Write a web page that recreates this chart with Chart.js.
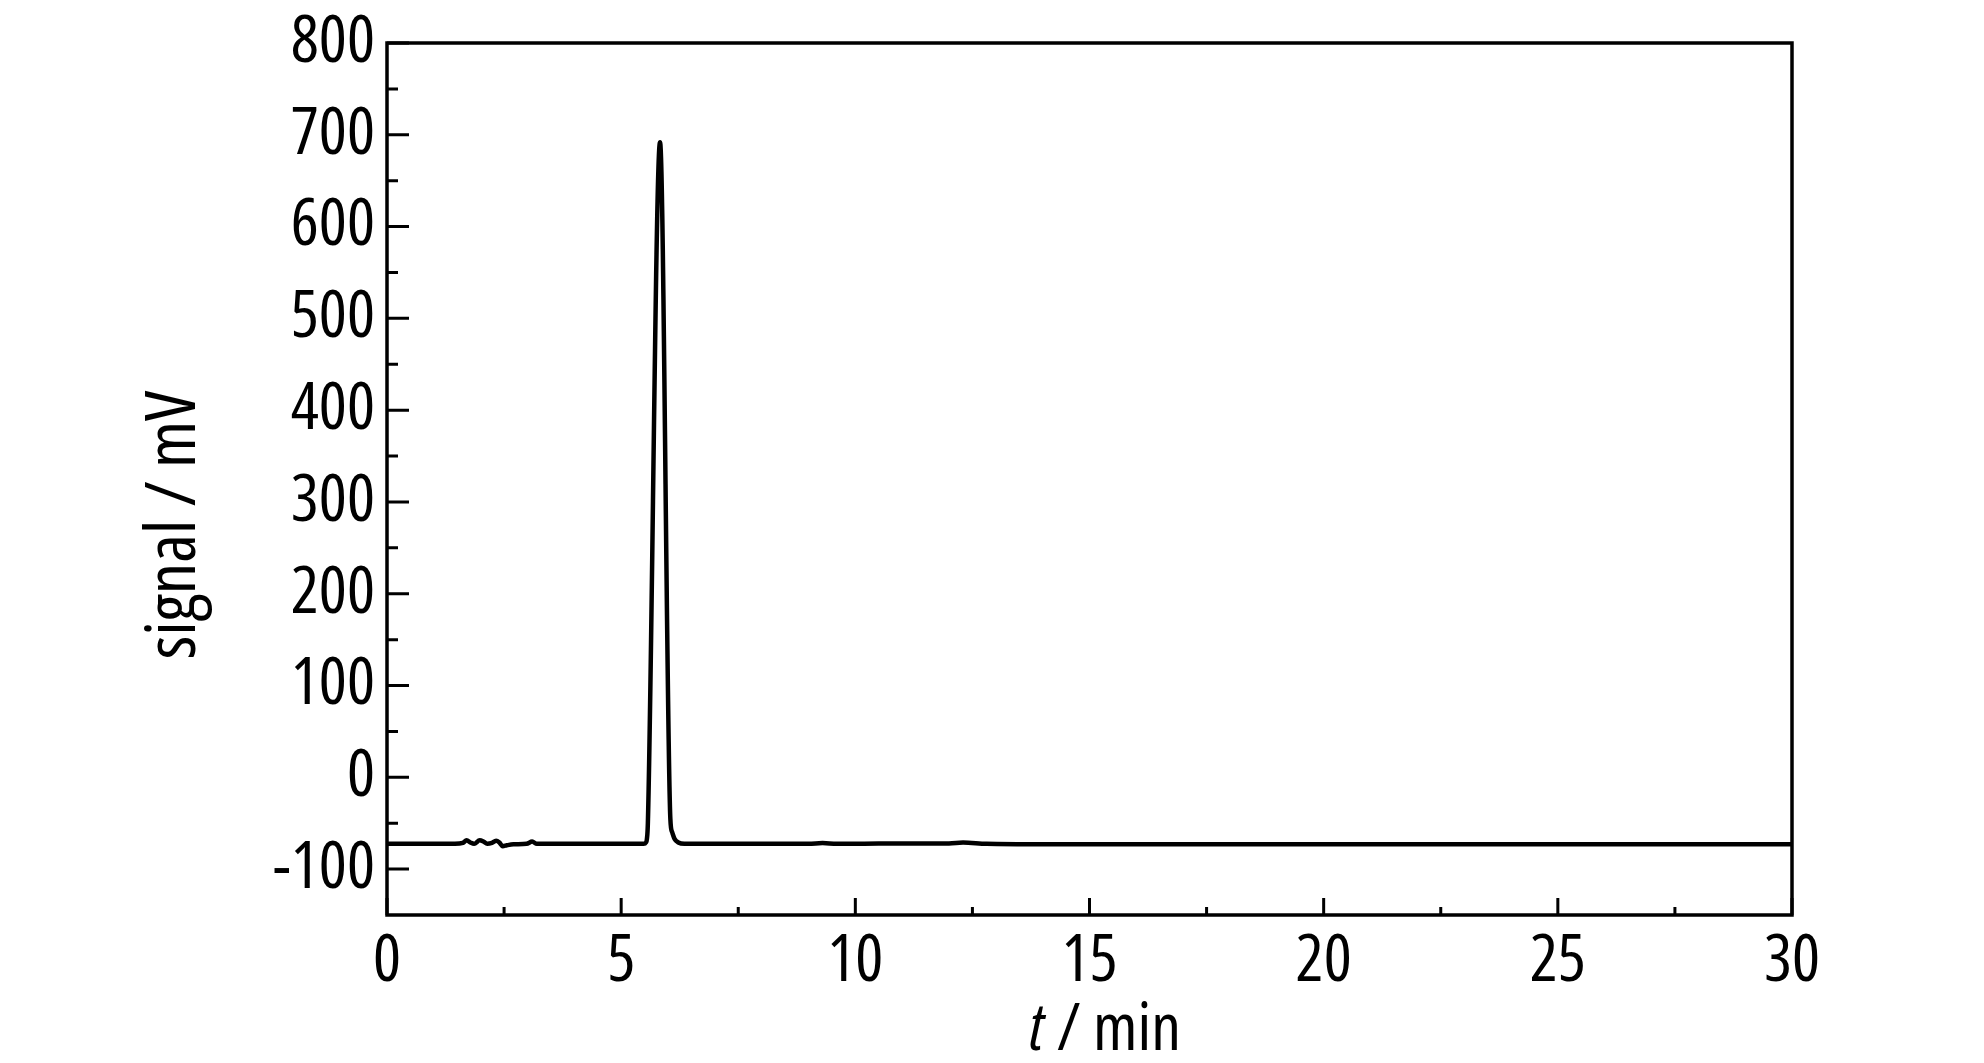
<!DOCTYPE html>
<html lang="en">
<head>
    <meta charset="UTF-8">
    <title>Chromatogram</title>
    <script src="https://cdn.jsdelivr.net/npm/chart.js"></script>
    <style>
        body {
            margin: 0;
            background-color: white;
        }
        .chart-container {
            width: 1984px;
            height: 1063px;
        }
    </style>
</head>
<body>
    <div class="chart-container">
        <canvas id="chromChart"></canvas>
    </div>

    <script>
        // Values: time (min) and signal (mV)
        const times = [0, 1.45, 1.62, 1.70, 1.78, 1.86, 1.98, 2.06, 2.14, 2.24,
                       2.33, 2.40, 2.47, 2.56, 2.70, 2.98, 3.10, 3.20, 3.40, 5.00,
                       5.48, 5.53, 5.55, 5.57, 5.83, 6.05, 6.09, 6.14, 6.22, 6.35,
                       7.00, 9.00, 9.30, 9.60, 10.50, 12.00, 12.30, 12.80, 14.00, 30];
        const signals = [-72.5, -72.5, -71.5, -68.5, -71, -72.5, -68.5, -70, -72.5, -71.5,
                         -69, -71, -75, -74, -73, -72.5, -70, -72.5, -72.5, -72.5,
                         -72.5, -71, -67, -50, 692, -45, -60, -67, -71, -72.5,
                         -72.5, -72.5, -71.5, -72.5, -72, -72, -71, -72.5, -73, -73];

        const xMajorTicks = [0, 5, 10, 15, 20, 25, 30];
        const xMinorTicks = [2.5, 7.5, 12.5, 17.5, 22.5, 27.5];
        const yMajorTicks = [-100, 0, 100, 200, 300, 400, 500, 600, 700, 800];
        const yMinorTicks = [-50, 50, 150, 250, 350, 450, 550, 650, 750];

        // The reference uses a narrow sans; take the narrowest one this machine has
        function pickFont() {
            const c = document.createElement('canvas').getContext('2d');
            const probe = '0123456789';
            const w = f => { c.font = f; return c.measureText(probe).width; };
            const mono = w('66px monospace');
            const candidates = [
                { stretch: '', family: "'Liberation Sans Narrow'" },
                { stretch: '', family: "'Arial Narrow'" },
                { stretch: 'condensed', family: "'Liberation Sans'" },
                { stretch: 'condensed', family: "'Noto Sans'" },
                { stretch: 'condensed', family: 'Roboto' },
                { stretch: 'condensed', family: "'Open Sans'" },
                { stretch: '', family: "'DejaVu Sans Condensed'" },
                { stretch: 'condensed', family: "'DejaVu Sans'" }
            ];
            let best = null;
            candidates.forEach(cd => {
                const base = w('66px ' + cd.family + ', monospace');
                if (Math.abs(base - mono) < 0.5) return;
                const ww = cd.stretch ? w(cd.stretch + ' 66px ' + cd.family + ', monospace') : base;
                if (cd.stretch && ww > base * 0.97) return;
                if (!best || ww < best.width) best = { stretch: cd.stretch, family: cd.family, width: ww };
            });
            // Arial Narrow digits: about 301px for the probe at 66px
            if (!best || best.width > 340) {
                return { stretch: '', family: "'Liberation Sans'", size: 62 };
            }
            return { stretch: best.stretch, family: best.family, size: 66 };
        }

        const picked = pickFont();
        const fontFamily = picked.family + ', sans-serif';
        const fontSize = picked.size;
        const fontPrefix = picked.stretch ? picked.stretch + ' ' : '';
        const tickFont = { family: fontFamily, size: fontSize, weight: picked.stretch || undefined };

        // Frame, inward ticks and axis titles
        const framePlugin = {
            id: 'frame',
            afterDraw(chart) {
                const c = chart.ctx;
                const a = chart.chartArea;
                const xs = chart.scales.x;
                const ys = chart.scales.y;
                c.save();
                c.strokeStyle = '#000';
                c.lineWidth = 3.5;
                c.strokeRect(a.left, a.top, a.right - a.left, a.bottom - a.top);
                c.lineWidth = 3;
                c.beginPath();
                xMajorTicks.forEach(v => { const p = xs.getPixelForValue(v); c.moveTo(p, a.bottom); c.lineTo(p, a.bottom - 17); });
                xMinorTicks.forEach(v => { const p = xs.getPixelForValue(v); c.moveTo(p, a.bottom); c.lineTo(p, a.bottom - 8); });
                yMajorTicks.forEach(v => { const p = ys.getPixelForValue(v); c.moveTo(a.left, p); c.lineTo(a.left + 22, p); });
                yMinorTicks.forEach(v => { const p = ys.getPixelForValue(v); c.moveTo(a.left, p); c.lineTo(a.left + 11, p); });
                c.stroke();

                // x title with italic t
                c.fillStyle = '#000';
                c.textBaseline = 'alphabetic';
                const italic = 'italic ' + fontPrefix + fontSize + 'px ' + fontFamily;
                const upright = fontPrefix + fontSize + 'px ' + fontFamily;
                c.font = italic;
                const tW = c.measureText('t').width;
                c.font = upright;
                const restW = c.measureText(' / min').width;
                const x0 = 1105 - (tW + restW) / 2;
                c.textAlign = 'left';
                c.font = italic;
                c.fillText('t', x0, 1050);
                c.font = upright;
                c.fillText(' / min', x0 + tW, 1050);

                // y title
                c.translate(195, 525);
                c.rotate(-Math.PI / 2);
                c.textAlign = 'center';
                c.font = fontPrefix + (fontSize + 4) + 'px ' + fontFamily;
                c.fillText('signal / mV', 0, 0);
                c.restore();
            }
        };

        const ctx = document.getElementById('chromChart').getContext('2d');
        const chromChart = new Chart(ctx, {
            type: 'line',
            data: {
                datasets: [{
                    data: times.map((t, i) => ({ x: t, y: signals[i] })),
                    borderColor: '#000',
                    borderWidth: 4.5,
                    pointRadius: 0,
                    cubicInterpolationMode: 'monotone',
                    fill: false
                }]
            },
            options: {
                responsive: true,
                maintainAspectRatio: false,
                animation: false,
                layout: {
                    padding: { left: 0, top: 43, right: 192, bottom: 0 }
                },
                plugins: {
                    legend: { display: false },
                    tooltip: { enabled: false }
                },
                scales: {
                    x: {
                        type: 'linear',
                        min: 0,
                        max: 30,
                        grid: { display: false, drawTicks: false },
                        border: { display: false },
                        ticks: {
                            padding: 8,
                            color: '#000',
                            font: tickFont
                        },
                        afterBuildTicks: s => { s.ticks = xMajorTicks.map(v => ({ value: v })); },
                        afterFit: s => { s.height = 148; s.paddingLeft = 0; s.paddingRight = 0; }
                    },
                    y: {
                        min: -150,
                        max: 800,
                        grid: { display: false, drawTicks: false },
                        border: { display: false },
                        ticks: {
                            padding: 12,
                            color: '#000',
                            font: tickFont
                        },
                        afterBuildTicks: s => { s.ticks = yMajorTicks.map(v => ({ value: v })); },
                        afterFit: s => { s.width = 387; s.paddingTop = 0; s.paddingBottom = 0; }
                    }
                }
            },
            plugins: [framePlugin]
        });
    </script>
</body>
</html>
